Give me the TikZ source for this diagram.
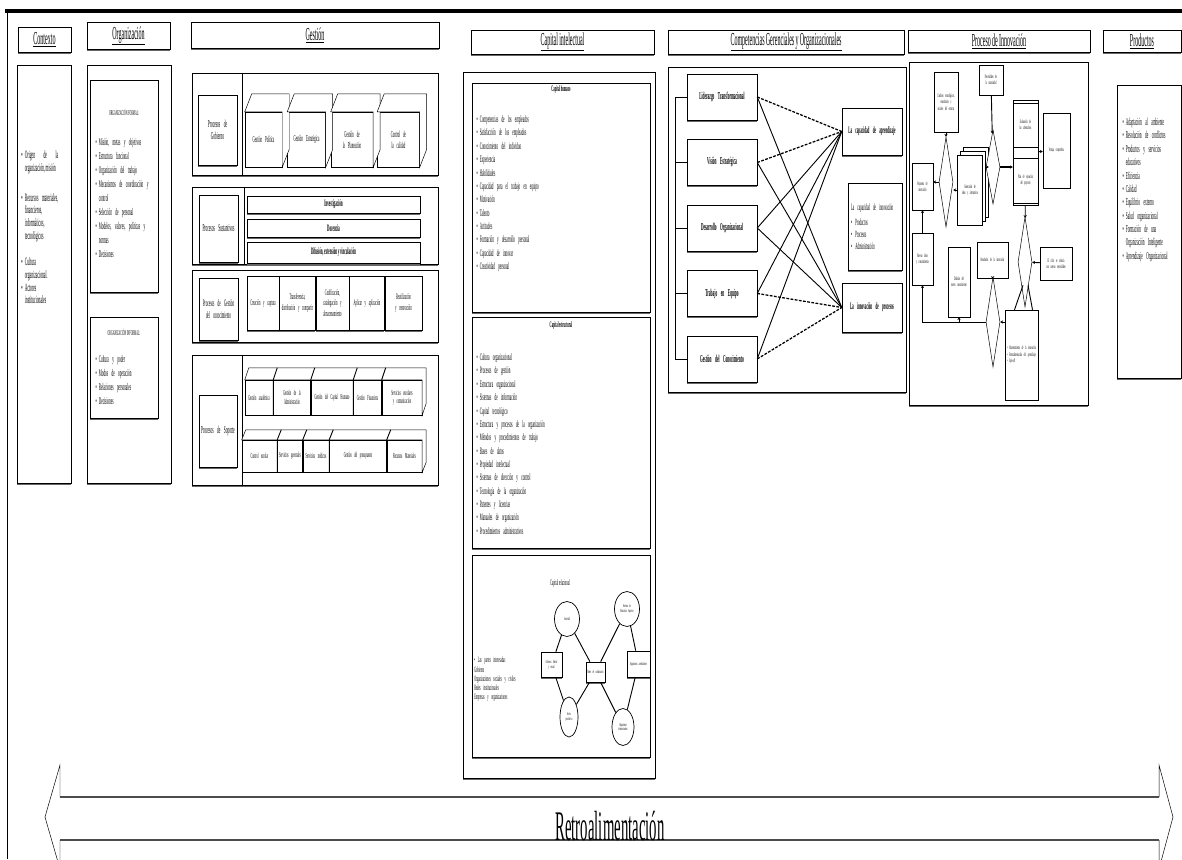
\documentclass[tikz,border=0pt]{standalone}
\usepackage{fontspec}
\setmainfont{Liberation Serif}[FakeStretch=0.33, WordSpace=0.8]
\newfontfamily\retrofont{Liberation Serif}[FakeStretch=0.35]
\usepackage{enumitem}
\usetikzlibrary{shapes.geometric, arrows.meta, positioning, fit, calc, shadows}

\newcommand{\letra}[2]{\fontsize{#1}{#2}\selectfont}
\newlist{puntos}{itemize}{1}
\setlist[puntos]{label=\textbullet, leftmargin=8pt, labelsep=3pt, itemsep=0pt, parsep=0pt, topsep=0pt, partopsep=0pt}
% cara superior y lateral de un bloque
\newcommand{\tapa}[4]{\draw[fill=white] (#1.north west) -- ++(#3,#4) -- ($(#2.north east)+(#3,#4)$) -- ($(#2.south east)+(#3,#4)$) -- (#2.south east) -- (#2.north east) -- cycle;}

\begin{document}
\begin{tikzpicture}[
    x=0.05cm, y=-0.05cm, line width=0.7pt,
    sombra/.style={drop shadow={shadow xshift=0pt, shadow yshift=-2.2pt, fill=black!60, opacity=1}},
    encabezado/.style={rectangle, draw, fill=white, sombra, inner sep=0pt, font=\letra{26}{27}},
    marco/.style={rectangle, draw, fill=white, sombra, inner sep=0pt},
    caja/.style={rectangle, draw, fill=white, sombra, inner sep=1pt, align=center},
    bloque/.style={rectangle, draw, fill=white, inner sep=0pt, align=center},
    cubo/.style={bloque, minimum height=2.75cm, text width=1.6cm, font=\letra{13}{16}},
    celda/.style={bloque, sombra, minimum height=2.7cm, font=\letra{12}{15}},
    losa/.style={bloque, font=\letra{11}{12}},
    lista/.style={anchor=north west, align=left, inner sep=0pt, font=\letra{14}{19}},
    competencia/.style={caja, minimum width=3.5cm, minimum height=2.3cm, text width=3.2cm, font=\bfseries\letra{15}{17}},
    nube/.style={ellipse, draw, line width=1pt, fill=white, inner sep=0pt, align=center, font=\letra{6.5}{7}},
    rombo/.style={diamond, draw, fill=white, inner sep=0pt, minimum width=0.7cm},
    paso/.style={bloque, font=\letra{7.5}{9}},
    flecha/.style={-{Stealth[length=4pt, width=4.5pt]}, line width=1.3pt},
    enlace/.style={line width=1.3pt},
    punteada/.style={dash pattern=on 4pt off 2pt, line width=1.8pt}
]
\useasboundingbox (0,0) rectangle (1182,859);
\draw[line width=4.5pt] (5,11) -- (1182,11);
\draw[line width=1.2pt] (7,11) -- (7,859);

% encabezados
\node[encabezado, minimum width=2.65cm, minimum height=1.25cm] (contexto) at (44.5,39.5) {\underline{Contexto}};
\node[encabezado, minimum width=4.15cm, minimum height=1.35cm] (organizacion) at (128.5,36) {\underline{Organización}};
\node[encabezado, minimum width=12.4cm, minimum height=1.3cm] (gestion) at (315,35) {\underline{Gestión}};
\node[encabezado, minimum width=9.15cm, minimum height=1.2cm] (capital) at (562.5,42) {\underline{Capital intelectual}};
\node[encabezado, minimum width=11.8cm, minimum height=1.2cm] (competencias) at (786,42) {\underline{Competencias Gerenciales y Organizacionales}};
\node[encabezado, minimum width=9.1cm, minimum height=1.1cm] (innovacion) at (999,41) {\underline{Proceso de Innovación}};
\node[encabezado, minimum width=3.9cm, minimum height=1.1cm] (productos) at (1142,41) {\underline{Productos}};

% Contexto
\node[marco, fit={(17,65) (71,483)}] (ctxmarco) {};
\node[lista, text width=1.95cm, align=justify, font={\letra{16}{18}\hyphenpenalty=10000\exhyphenpenalty=10000}] (ctxlista) at (19,146) {\begin{puntos}
  \item Origen de la organización, misión\par\vspace{24pt}
  \item Recursos materiales, financieros, informáticos, tecnológicos\par\vspace{20pt}
  \item Cultura organizacional.
  \item Actores institucionales
\end{puntos}};

% Organizacion
\node[marco, fit={(87,65) (171,483)}] (orgmarco) {};
\node[marco, fit={(90,80) (158,292)}] (formal) {};
\node[font=\letra{10.5}{11}] (formaltit) at (124,112) {ORGANIZACIÓN FORMAL:};
\node[lista, text width=3.1cm, font=\letra{14.5}{20}] (formallista) at (93,131) {\begin{puntos}
  \item Misión, metas y objetivos
  \item Estructura funcional
  \item Organización del trabajo
  \item Mecanismos de coordinación y control
  \item Selección de personal
  \item Modelos, valores, políticas y normas
  \item Decisiones
\end{puntos}};
\node[marco, fit={(90,317) (158,418)}] (informal) {};
\node[font=\letra{10.5}{11}] (informaltit) at (124,332) {ORGANIZACIÓN INFORMAL:};
\node[lista, text width=3.1cm, font=\letra{14.5}{20}] (informallista) at (93,348) {\begin{puntos}
  \item Cultura y poder
  \item Modos de operación
  \item Relaciones personales
  \item Decisiones
\end{puntos}};

% Gestion: procesos de gobierno
\node[marco, fit={(192,73) (438,175)}] (gobmarco) {};
\draw ($(gobmarco.north west)+(50,0)$) -- ($(gobmarco.south west)+(50,0)$);
\node[caja, minimum width=1.95cm, minimum height=3.5cm, text width=1.7cm, font=\letra{15}{18}] (gobtit) at (217.5,130) {Procesos de Gobierno};
\node[cubo, minimum width=1.85cm] (politica) at (263.5,139.5) {Gestión Política};
\node[cubo, minimum width=1.9cm, right=0.25cm of politica] (estrategica) {Gestión Estratégica};
\node[cubo, minimum width=2.1cm, right=0.25cm of estrategica] (planeacion) {Gestión de la Planeación};
\node[cubo, minimum width=2.1cm, right=0.2cm of planeacion] (calidad) {Control de la calidad};
\tapa{politica}{politica}{7}{-18}
\tapa{estrategica}{estrategica}{7}{-18}
\tapa{planeacion}{planeacion}{7}{-18}
\tapa{calidad}{calidad}{7}{-18}

% procesos sustantivos
\node[marco, fit={(192,187) (438,264)}] (susmarco) {};
\draw ($(susmarco.north west)+(52,0)$) -- ($(susmarco.south west)+(52,0)$);
\node[caja, minimum width=1.95cm, minimum height=3.35cm, text width=1.7cm, font=\letra{15}{18}] (sustit) at (218.5,228.5) {Procesos Sustantivos};
\node[caja, minimum width=8.65cm, minimum height=0.85cm, font=\bfseries\letra{14}{15}] (investigacion) at (333.5,204.5) {Investigación};
\node[caja, minimum width=8.65cm, minimum height=0.9cm, font=\bfseries\letra{14}{15}, below=0.3cm of investigacion] (docencia) {Docencia};
\node[caja, minimum width=8.65cm, minimum height=1.05cm, font=\bfseries\letra{14}{15}, below=0.2cm of docencia] (difusion) {Difusión, extensión y vinculación};

% gestion del conocimiento
\node[marco, fit={(192,270) (438,342)}] (gcmarco) {};
\node[caja, minimum width=1.95cm, minimum height=3.1cm, text width=1.7cm, font=\letra{14}{17}] (gctit) at (218.5,309) {Procesos de Gestión del conocimiento};
\node[celda, minimum width=1.6cm, text width=1.45cm] (creacion) at (263,303) {Creación y captura};
\node[celda, minimum width=1.8cm, text width=1.65cm, right=0pt of creacion] (transferencia) {Transferencia, distribución y compartir};
\node[celda, minimum width=1.65cm, text width=1.5cm, right=0pt of transferencia] (codificacion) {Codificación, catalogación y almacenamiento};
\node[celda, minimum width=1.75cm, text width=1.6cm, right=0pt of codificacion] (aplicacion) {Aplicar y aplicación};
\node[celda, minimum width=1.85cm, text width=1.7cm, right=0pt of aplicacion] (reutilizacion) {Reutilización y renovación};

% procesos de soporte
\node[marco, fit={(192,355) (438,485)}] (sopmarco) {};
\draw ($(sopmarco.north west)+(50,0)$) -- ($(sopmarco.south west)+(50,0)$);
\node[caja, minimum width=1.9cm, minimum height=3.6cm, text width=1.7cm, font=\letra{15}{18}] (soptit) at (218,431) {Procesos de Soporte};
\node[losa, minimum width=1.4cm, text width=1.3cm, minimum height=1.75cm] (sacad) at (259,397.5) {Gestión académica};
\node[losa, minimum width=1.85cm, text width=1.75cm, minimum height=1.75cm, right=0pt of sacad] (sadmin) {Gestión de la Administración};
\node[losa, minimum width=2.1cm, text width=2cm, minimum height=1.75cm, right=0pt of sadmin] (shumano) {Gestión del Capital Humano};
\node[losa, minimum width=1.4cm, text width=1.3cm, minimum height=1.75cm, right=0pt of shumano] (sfinan) {Gestión Financiera};
\node[losa, minimum width=2cm, text width=1.9cm, minimum height=1.75cm, right=0pt of sfinan] (sescol) {Servicios escolares y comunicación};
\tapa{sacad}{sescol}{4}{-12}
\draw[line width=1.3pt] (sacad.south east) -- (sacad.north east) -- ++(4,-12);
\draw[line width=1.3pt] (sadmin.south east) -- (sadmin.north east) -- ++(4,-12);
\draw[line width=1.3pt] (shumano.south east) -- (shumano.north east) -- ++(4,-12);
\draw[line width=1.3pt] (sfinan.south east) -- (sfinan.north east) -- ++(4,-12);
\node[losa, minimum width=1.75cm, text width=1.65cm, minimum height=1.6cm] (scontrol) at (259.5,456) {Control escolar};
\node[losa, minimum width=1.25cm, text width=1.15cm, minimum height=1.6cm, right=0pt of scontrol] (sgener) {Servicios generales};
\node[losa, minimum width=1.3cm, text width=1.2cm, minimum height=1.6cm, right=0pt of sgener] (smedic) {Servicios médicos};
\node[losa, minimum width=2.85cm, text width=2.7cm, minimum height=1.6cm, right=0pt of smedic] (spresu) {Gestión del presupuesto};
\node[losa, minimum width=1.75cm, text width=1.65cm, minimum height=1.6cm, right=0pt of spresu] (smater) {Recursos Materiales};
\tapa{scontrol}{smater}{4}{-10}
\draw[line width=1.3pt] (scontrol.south east) -- (scontrol.north east) -- ++(4,-10);
\draw[line width=1.3pt] (sgener.south east) -- (sgener.north east) -- ++(4,-10);
\draw[line width=1.3pt] (smedic.south east) -- (smedic.north east) -- ++(4,-10);
\draw[line width=1.3pt] (spresu.south east) -- (spresu.north east) -- ++(4,-10);

% Capital intelectual
\node[marco, fit={(463,72) (655,778)}] (capmarco) {};
\node[marco, fit={(472,83) (650,312)}] (chumano) {};
\node[font=\bfseries\letra{12}{13}] (chumanotit) at (561,89) {Capital humano};
\node[lista, text width=8cm] (chumanolista) at (474,109) {\begin{puntos}
  \item Competencias de los empleados
  \item Satisfacción de los empleados
  \item Conocimiento del individuo
  \item Experiencia
  \item Habilidades
  \item Capacidad para el trabajo en equipo
  \item Motivación
  \item Talento
  \item Actitudes
  \item Formación y desarrollo personal
  \item Capacidad de innovar
  \item Creatividad personal
\end{puntos}};
\node[marco, fit={(472,317) (650,548)}] (cestructural) {};
\node[font=\bfseries\letra{12}{13}] (cestructuraltit) at (561,325) {Capital estructural};
\node[lista, text width=8cm] (cestructurallista) at (474,347) {\begin{puntos}
  \item Cultura organizacional
  \item Procesos de gestión
  \item Estructura organizacional
  \item Sistemas de información
  \item Capital tecnológico
  \item Estructura y procesos de la organización
  \item Métodos y procedimientos de trabajo
  \item Bases de datos
  \item Propiedad intelectual
  \item Sistemas de dirección y control
  \item Tecnología de la organización
  \item Patentes y licencias
  \item Manuales de organización
  \item Procedimientos administrativos
\end{puntos}};
\node[marco, fit={(472,555) (650,757)}] (crelacional) {};
\node[font=\letra{12}{13}] (crelacionaltit) at (560,583) {Capital relacional};
\node[lista, text width=3.3cm, font=\letra{11.5}{13}] (crelacionallista) at (474,657) {\textbullet~Las partes interesadas\\ Gobierno\\ Organizaciones sociales y civiles\\ Redes institucionales\\ Empresas y organizaciones};
\node[nube, minimum width=1.25cm, minimum height=1.75cm, text width=0.7cm] (sociedad) at (567,619) {Sociedad};
\node[nube, minimum width=1.25cm, minimum height=1.75cm, text width=0.7cm] (ies) at (627,609) {Sistema de Educación Superior};
\node[nube, minimum width=0.9cm, minimum height=2cm, text width=0.5cm] (sector) at (569,717) {Sector productivo};
\node[nube, minimum width=1.1cm, minimum height=1.85cm, text width=0.6cm] (internacional) at (623,727) {Organismos internacionales};
\node[caja, line width=1pt, minimum width=1.05cm, minimum height=1.25cm, text width=0.9cm, font=\letra{6.5}{7}] (gobierno) at (551.5,664.5) {Gobierno federal y estatal};
\node[caja, line width=1pt, minimum width=0.95cm, minimum height=1cm, text width=0.85cm, font=\letra{6.5}{7}] (redes) at (595.5,672) {Redes de colaboración};
\node[caja, line width=1pt, minimum width=1.15cm, minimum height=1.3cm, text width=1cm, font=\letra{6.5}{7}] (acreditadores) at (638.5,664) {Organismos acreditadores};
\draw[enlace] (sociedad) -- (gobierno);
\draw[enlace] (gobierno) -- (sector);
\draw[enlace] (sector) -- (redes);
\draw[enlace] (sociedad) -- (redes);
\draw[enlace] (redes) -- (ies);
\draw[enlace] (redes) -- (internacional);
\draw[enlace] (ies) -- (acreditadores);
\draw[enlace] (acreditadores) -- (internacional);

% Competencias
\node[marco, fit={(668,67) (906,392)}] (compmarco) {};
\node[competencia] (liderazgo) at (722,97) {Liderazgo Transformacional};
\node[competencia, below=0.95cm of liderazgo] (vision) {Visión Estratégica};
\node[competencia, below=0.95cm of vision] (desarrollo) {Desarrollo Organizacional};
\node[competencia, below=0.95cm of desarrollo] (equipo) {Trabajo en Equipo};
\node[competencia, below=0.95cm of equipo] (gconocimiento) {Gestión del Conocimiento};
\draw (liderazgo.west) -- ++(-12,0) |- (gconocimiento.west);
\draw (vision.west) -- ++(-12,0);
\draw (desarrollo.west) -- ++(-12,0);
\draw (equipo.west) -- ++(-12,0);
\node[caja, minimum width=3cm, minimum height=2.35cm, text width=2.8cm, font=\bfseries\letra{14}{16}] (aprendizaje) at (872,131.5) {La capacidad de aprendizaje};
\node[caja, minimum width=2.7cm, minimum height=4.35cm, text width=2.4cm, align=left, font=\letra{13.5}{17}] (capinnova) at (875,226.5) {La capacidad de innovación\\[4pt] \textbullet~Productos\\ \textbullet~Procesos\\ \textbullet~Administración};
\node[caja, minimum width=3cm, minimum height=2.45cm, text width=2.8cm, font=\bfseries\letra{14}{16}] (procesos) at (872,307.5) {La innovación de procesos};
\draw[punteada] (liderazgo.east) -- (aprendizaje.west);
\draw[punteada] (vision.east) -- (aprendizaje.west);
\draw[punteada] (equipo.east) -- (procesos.west);
\draw[punteada] (gconocimiento.east) -- (procesos.west);
\draw[enlace] (liderazgo.east) -- (procesos.west);
\draw[enlace] (vision.east) -- (procesos.west);
\draw[enlace] (desarrollo.east) -- (aprendizaje.west);
\draw[enlace] (desarrollo.east) -- (procesos.west);
\draw[enlace] (equipo.east) -- (aprendizaje.west);
\draw[enlace] (gconocimiento.east) -- (aprendizaje.west);

% Proceso de innovacion
\node[marco, fit={(909,62) (1088,405)}] (innmarco) {};
\node[paso, minimum width=1.2cm, minimum height=3cm, text width=1cm] (icambios) at (946,102) {Cambios tecnológicos, económicos y sociales del entorno};
\node[paso, minimum width=1.2cm, minimum height=1.5cm, text width=1cm] (inecesidad) at (991,80) {Necesidades de la comunidad};
\node[rombo, minimum height=4.5cm] (id1) at (946,182) {};
\node[paso, minimum width=1.05cm, minimum height=2.35cm, text width=0.9cm] (ipropuesta) at (922.5,186.5) {Propuesta de innovación};
\node[bloque, minimum width=1.25cm, minimum height=3.5cm] (iideas3) at (976,182) {};
\node[bloque, minimum width=1.25cm, minimum height=3.5cm] (iideas2) at (973,186) {};
\node[paso, minimum width=1.25cm, minimum height=3.5cm, text width=1cm] (iideas) at (970,190) {Generación de ideas y alternativas};
\node[rombo, minimum height=3.7cm] (id2) at (993,167) {};
\node[bloque, fit={(1013,100) (1038,205)}] (icontenedor) {};
\node[paso, minimum width=1.25cm, minimum height=2.2cm, text width=1.05cm] (ievalua) at (1025.5,125) {Evaluación de las alternativas};
\node[paso, minimum width=1.25cm, minimum height=2.25cm, text width=1.05cm] (iplan) at (1025.5,180.5) {Plan de ejecución del proyecto};
\node[paso, minimum width=1.35cm, minimum height=3.75cm, text width=1.1cm] (iventaja) at (1056.5,150.5) {Ventaja competitiva};
\node[rombo, minimum height=4.5cm] (id3) at (1025,262) {};
\node[paso, minimum width=1.6cm, minimum height=1.65cm, text width=1.4cm] (iciclo) at (1056,263.5) {El ciclo se reinicia con nuevas necesidades};
\node[paso, minimum width=1.65cm, minimum height=4.5cm, text width=1.45cm, align=left] (iresultado) at (1021.5,355) {\textbullet~Mantenimiento de la innovación\\ \textbullet~Retroalimentación del aprendizaje\\ \textbullet~Spin-off};
\node[rombo, minimum height=4.5cm] (id4) at (993,322) {};
\node[paso, minimum width=1.55cm, minimum height=1.8cm, text width=1.35cm] (idesarrollo) at (992.5,260) {Resultados de la innovación};
\node[paso, minimum width=1.1cm, minimum height=3.5cm, text width=0.9cm] (idifusion) at (959,282) {Difusión del nuevo conocimiento};
\node[paso, minimum width=1.05cm, minimum height=2.6cm, text width=0.9cm] (inueva) at (922.5,259) {Nuevas ideas y conocimientos};
\draw[flecha] (icambios) -- (id1);
\draw[flecha] (inecesidad) -- (id2);
\draw[flecha] (id1.west) -- (id1.west -| ipropuesta.east);
\draw[flecha] (iideas.west) -- (iideas.west -| id1.east);
\draw[flecha] (id2.west) -- (id2.west -| iideas3.east);
\draw[flecha, line width=2pt] (id2.east) -- (id2.east -| icontenedor.west);
\draw[flecha] (icontenedor) -- (iventaja);
\draw[flecha] (icontenedor) -- (id3);
\draw[flecha] (iciclo) -- (id3);
\draw[enlace] ($(id3.south)+(-2,-22)$) -- ($(iresultado.north)+(-7,0)$);
\draw[enlace] ($(id3.south)+(3,-22)$) -- ($(iresultado.north)+(11,0)$);
\draw[flecha] (iresultado.west |- id4.east) -- (id4.east);
\draw[flecha] (idesarrollo) -- (id4);
\draw[flecha] (id4.west) -| (inueva.south);
\draw[flecha] (id4.west -| idifusion.south) -- (idifusion.south);
\draw[flecha] (inueva) -- (ipropuesta);

% Productos
\node[marco, fit={(1117,85) (1181,378)}] (prodmarco) {};
\node[lista, text width=2.6cm, font=\letra{15}{19}] (prodlista) at (1120,112) {\begin{puntos}
  \item Adaptación al ambiente
  \item Resolución de conflictos
  \item Productos y servicios educativos
  \item Eficiencia
  \item Calidad
  \item Equilibrio externo
  \item Salud organizacional
  \item Formación de una Organización Inteligente
  \item Aprendizaje Organizacional
\end{puntos}};

% Retroalimentacion
\draw (60,797) -- (60,765) -- (45,817) -- (60,869) -- (60,840);
\draw (1159,797) -- (1159,765) -- (1173,817) -- (1159,869) -- (1159,840);
\draw[line width=2.2pt, black!70] (60,797) -- (1159,797);
\draw[line width=2.2pt, black!70] (60,840) -- (1159,840);
\node[font=\retrofont\fontsize{60}{62}\selectfont] (retro) at (610,826) {Retroalimentación};
\end{tikzpicture}
\end{document}
